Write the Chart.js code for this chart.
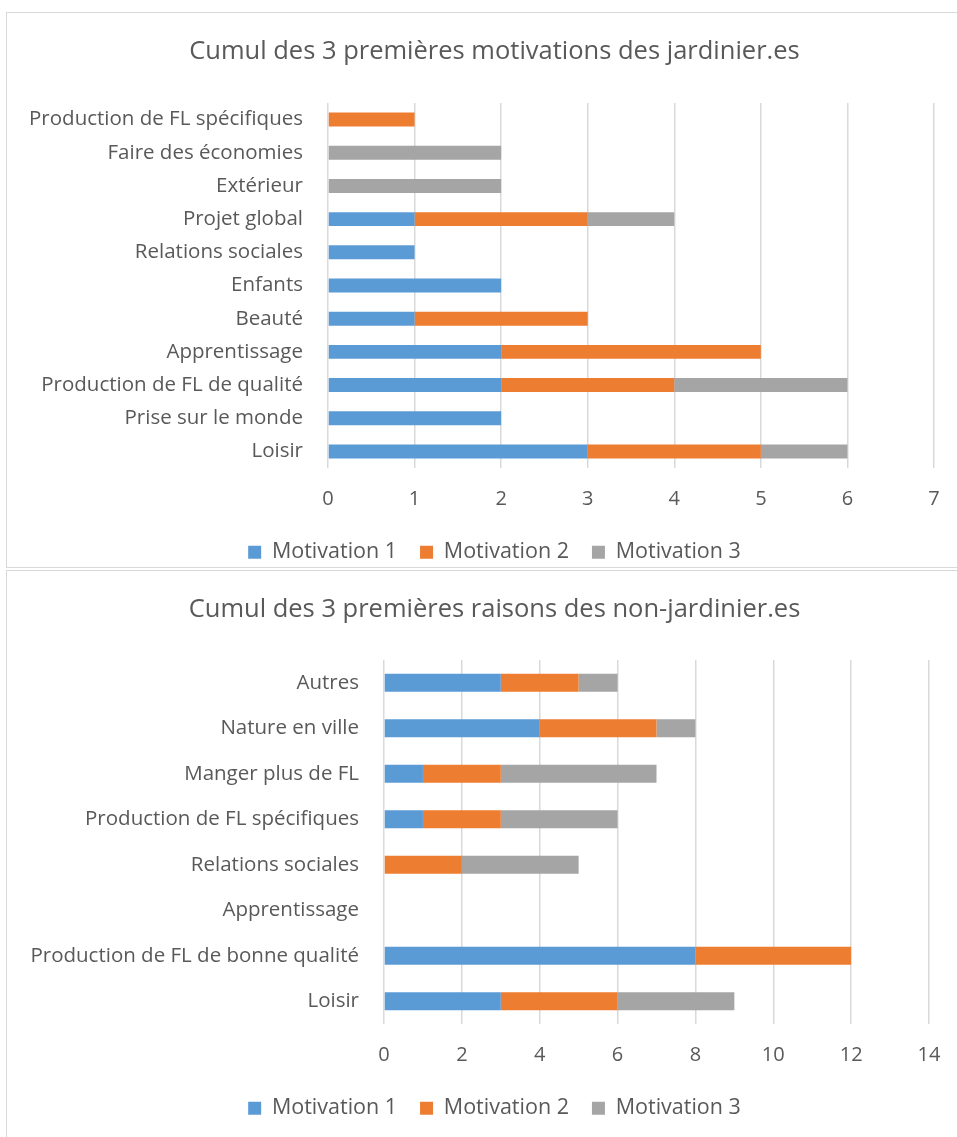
<!DOCTYPE html>
<html>
<head>
<meta charset="utf-8">
<script src="https://cdn.jsdelivr.net/npm/chart.js@4"></script>
<style>
  html, body { margin: 0; padding: 0; background: #fff; }
  body { width: 957px; height: 1137px; position: relative; overflow: hidden; }
  .frame { position: absolute; left: 6px; width: 980px; border: 1.5px solid #d9d9d9; box-sizing: border-box; }
  .box { position: absolute; left: 7px; width: 975px; }
</style>
</head>
<body>
<div class="frame" style="top:12px;height:556px;"></div>
<div class="frame" style="top:570px;height:600px;"></div>
<div class="box" style="top:13px;height:560px;"><canvas id="chart1"></canvas></div>
<div class="box" style="top:571px;height:558px;"><canvas id="chart2"></canvas></div>
<script>
// données - graphique 1 (jardinier.es)
var labels1 = ['Production de FL spécifiques', 'Faire des économies', 'Extérieur', 'Projet global',
    'Relations sociales', 'Enfants', 'Beauté', 'Apprentissage', 'Production de FL de qualité',
    'Prise sur le monde', 'Loisir'];
var motiv1a = [0, 0, 0, 1, 1, 2, 1, 2, 2, 2, 3];
var motiv2a = [1, 0, 0, 2, 0, 0, 2, 3, 2, 0, 2];
var motiv3a = [0, 2, 2, 1, 0, 0, 0, 0, 2, 0, 1];

// données - graphique 2 (non-jardinier.es)
var labels2 = ['Autres', 'Nature en ville', 'Manger plus de FL', 'Production de FL spécifiques',
    'Relations sociales', 'Apprentissage', 'Production de FL de bonne qualité', 'Loisir'];
var motiv1b = [3, 4, 1, 1, 0, 0, 8, 3];
var motiv2b = [2, 3, 2, 2, 2, 0, 4, 3];
var motiv3b = [1, 1, 4, 3, 3, 0, 0, 3];

var seriesNames = ['Motivation 1', 'Motivation 2', 'Motivation 3'];
var colors = ['#5b9bd5', '#ed7d31', '#a5a5a5'];

var FONT = '"Open Sans", Lato, sans-serif';
var GREY = '#595959';

function makeChart(id, title, labels, series, maxX, step, yWidth, rightWidth, barPct, titlePadBottom) {
    var datasets = [];
    for (var i = 0; i < series.length; i++) {
        datasets.push({
            label: seriesNames[i],
            data: series[i],
            backgroundColor: colors[i],
            borderWidth: 0,
            categoryPercentage: 1,
            barPercentage: barPct
        });
    }
    return new Chart(document.getElementById(id), {
        type: 'bar',
        data: { labels: labels, datasets: datasets },
        options: {
            indexAxis: 'y',
            responsive: true,
            maintainAspectRatio: false,
            animation: false,
            layout: { padding: 0 },
            plugins: {
                title: {
                    display: true,
                    text: title,
                    color: GREY,
                    font: { family: FONT, size: 25.5, weight: 'normal' },
                    padding: { top: 23.7, bottom: titlePadBottom }
                },
                legend: {
                    position: 'bottom',
                    labels: {
                        color: GREY,
                        font: { family: FONT, size: 21.5 },
                        boxWidth: 13,
                        boxHeight: 13,
                        padding: 23
                    }
                },
                tooltip: { enabled: false }
            },
            scales: {
                x: {
                    stacked: true,
                    min: 0,
                    max: maxX,
                    ticks: { stepSize: step, color: GREY, font: { family: FONT, size: 20 }, padding: 19 },
                    grid: { color: '#d9d9d9', lineWidth: 1.5, drawTicks: false },
                    border: { display: false },
                    afterFit: function (scale) { scale.height = 50.5; }
                },
                y: {
                    stacked: true,
                    ticks: { color: GREY, font: { family: FONT, size: 20.5 }, padding: 25 },
                    grid: { display: false, drawTicks: false },
                    border: { display: false },
                    afterFit: function (scale) { scale.width = yWidth; }
                },
                // axe vide à droite : garde le titre et la légende centrés sur tout le cadre
                yRight: {
                    type: 'linear',
                    position: 'right',
                    ticks: { display: false },
                    grid: { display: false, drawTicks: false },
                    border: { display: false },
                    afterFit: function (scale) { scale.width = rightWidth; }
                }
            }
        }
    });
}

makeChart('chart1', 'Cumul des 3 premières motivations des jardinier.es', labels1,
    [motiv1a, motiv2a, motiv3a], 7, 1, 321, 48, 0.42, 35.7);
makeChart('chart2', 'Cumul des 3 premières raisons des non-jardinier.es', labels2,
    [motiv1b, motiv2b, motiv3b], 14, 2, 377, 53, 0.4, 34.7);
</script>
</body>
</html>
